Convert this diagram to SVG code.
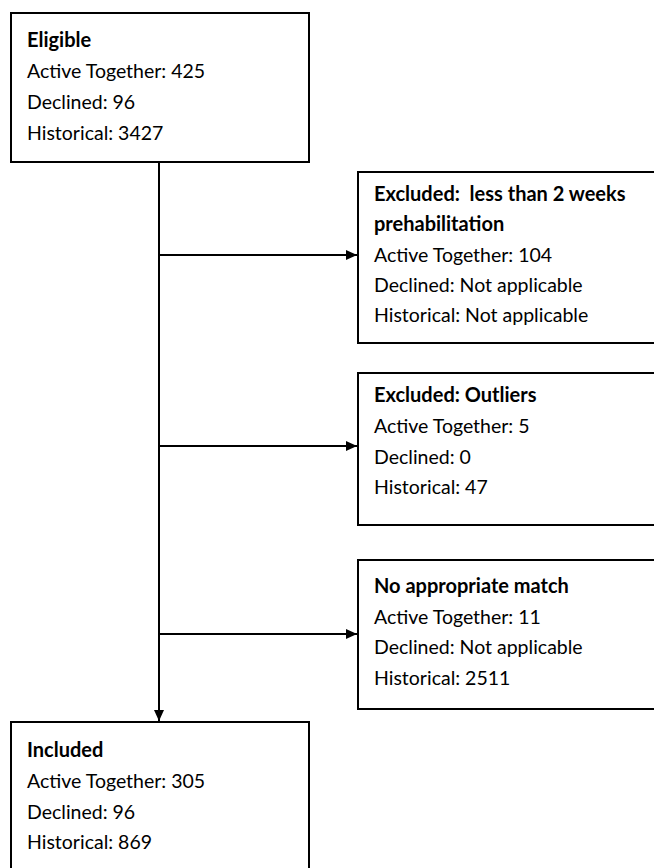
<svg xmlns="http://www.w3.org/2000/svg" width="654" height="868" viewBox="0 0 654 868">
<defs>
<marker id="arr" viewBox="0 0 11 10" refX="11" refY="5" markerWidth="11" markerHeight="10" markerUnits="userSpaceOnUse" orient="auto">
<path d="M0,0 L11,5 L0,10 Z" fill="#000"/>
</marker>
<style>
.box{fill:#fff;stroke:#000;stroke-width:2}
.con{stroke:#000;stroke-width:2;fill:none}
text{font-family:Lato,"Open Sans","Liberation Sans",sans-serif;font-size:19.5px;fill:#000}
.b{font-weight:bold;font-size:20px}
</style>
</defs>
<rect width="654" height="868" fill="#fff"/>
<g id="connectors">
<line class="con" x1="159" y1="162" x2="159" y2="721" marker-end="url(#arr)"/>
<line class="con" x1="159" y1="255" x2="357" y2="255" marker-end="url(#arr)"/>
<line class="con" x1="159" y1="446" x2="357" y2="446" marker-end="url(#arr)"/>
<line class="con" x1="159" y1="634" x2="357" y2="634" marker-end="url(#arr)"/>
</g>
<g id="eligible">
<rect class="box" x="11" y="13" width="298" height="149"/>
<text x="27" y="47" class="b">Eligible</text>
<text x="27" y="78">Active Together: 425</text>
<text x="27" y="109">Declined: 96</text>
<text x="27" y="140">Historical: 3427</text>
</g>
<g id="excluded-short">
<rect class="box" x="358" y="172" width="310" height="171"/>
<text x="374" y="200.5" class="b" xml:space="preserve">Excluded:  less than 2 weeks</text>
<text x="374" y="231" class="b">prehabilitation</text>
<text x="374" y="261.5">Active Together: 104</text>
<text x="374" y="292">Declined: Not applicable</text>
<text x="374" y="322">Historical: Not applicable</text>
</g>
<g id="excluded-outliers">
<rect class="box" x="358" y="373" width="310" height="152"/>
<text x="374" y="402" class="b">Excluded: Outliers</text>
<text x="374" y="433">Active Together: 5</text>
<text x="374" y="464">Declined: 0</text>
<text x="374" y="494">Historical: 47</text>
</g>
<g id="no-match">
<rect class="box" x="358" y="560" width="310" height="149"/>
<text x="374" y="593" class="b">No appropriate match</text>
<text x="374" y="623.5">Active Together: 11</text>
<text x="374" y="654">Declined: Not applicable</text>
<text x="374" y="684.5">Historical: 2511</text>
</g>
<g id="included">
<rect class="box" x="11" y="722" width="298" height="160"/>
<text x="27" y="757" class="b">Included</text>
<text x="27" y="788">Active Together: 305</text>
<text x="27" y="819">Declined: 96</text>
<text x="27" y="848.5">Historical: 869</text>
</g>
</svg>
